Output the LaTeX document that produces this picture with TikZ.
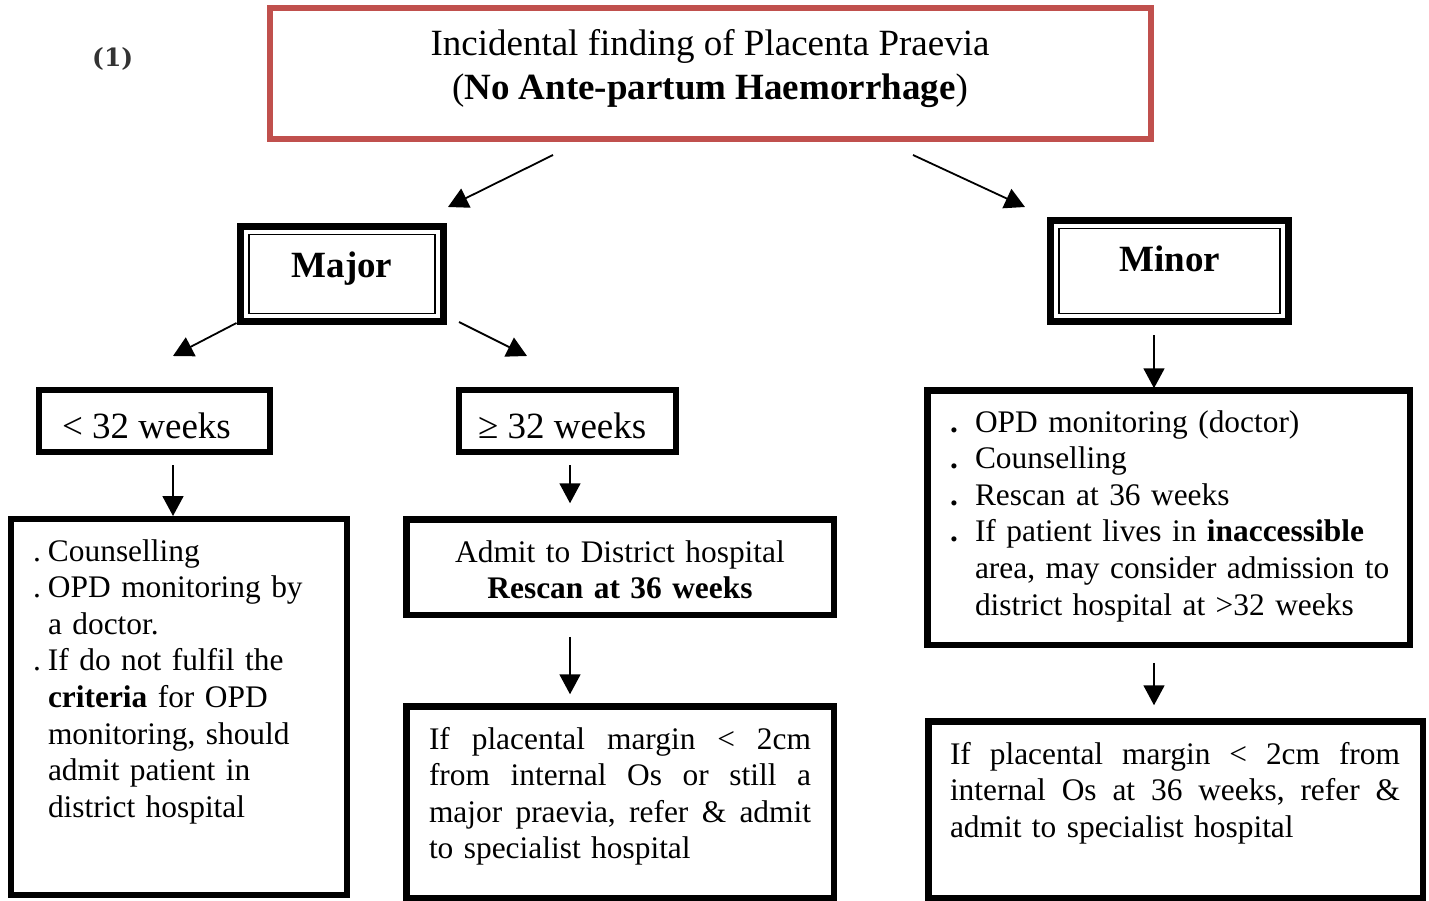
\documentclass[tikz,border=0pt]{standalone}
\usepackage{fontspec}
\setmainfont{Liberation Serif}
\newfontfamily\numfont{DejaVu Serif}
\usetikzlibrary{arrows.meta,calc}
\definecolor{redline}{HTML}{C0504D}
\definecolor{numgray}{HTML}{333333}
\newcommand{\bl}{\makebox[15pt][l]{.}}
\newcommand{\ind}{\hspace*{15pt}}
\newcommand{\bb}{\makebox[25pt][l]{\textbf{.}}}
\newcommand{\ib}{\hspace*{25pt}}
\newcommand{\jline}[2]{\leavevmode\hbox to #1{#2}}
\begin{document}
\begin{tikzpicture}[x=1pt,y=-1pt,
  thickbox/.style={draw=black, line width=6.5pt, inner sep=0pt, outer sep=0pt},
  redbox/.style={draw=redline, line width=6.5pt, inner sep=0pt, outer sep=0pt},
  innerline/.style={draw=black, line width=1.8pt},
  arr/.style={line width=1.8pt, -{Triangle[length=20pt,width=21pt]}},
  body/.style={font=\fontsize{31.4}{36.6}\selectfont, inner sep=0pt, outer sep=0pt, align=left},
  head/.style={font=\fontsize{37}{44}\selectfont, inner sep=0pt, outer sep=0pt}
]
\useasboundingbox (0,0) rectangle (1429,901);

% label
\node[font=\numfont\bfseries\fontsize{25}{28}\selectfont, text=numgray, anchor=base west, inner sep=0pt] (num) at (92,67) {(1)};

% title
\node[redbox, minimum width=881pt, minimum height=131pt] (title) at (710.5,73.5) {};
\node[head, anchor=base] (titleA) at (710,56) {Incidental finding of Placenta Praevia};
\node[head, anchor=base] (titleB) at (710,100) {(\textbf{No Ante-partum Haemorrhage})};

% major / minor
\node[thickbox, minimum width=203pt, minimum height=95pt] (major) at (342,274) {};
\draw[innerline] ($(major.north west)+(8.5,8)$) rectangle ($(major.south east)+(-8.5,-8)$);
\node[head, font=\fontsize{37}{44}\selectfont\bfseries, anchor=base] (majorT) at (342,277) {Major};

\node[thickbox, minimum width=238pt, minimum height=101pt] (minor) at (1169.5,271) {};
\draw[innerline] ($(minor.north west)+(8.5,8)$) rectangle ($(minor.south east)+(-8.5,-8)$);
\node[head, font=\fontsize{37}{44}\selectfont\bfseries, anchor=base] (minorT) at (1170,272) {Minor};

% weeks
\node[thickbox, minimum width=231pt, minimum height=62pt] (lt) at (154.5,421) {};
\node[head, anchor=base west] (ltT) at (62,438) {< 32 weeks};
\node[thickbox, minimum width=217pt, minimum height=62pt] (ge) at (567.5,421) {};
\node[head, anchor=base west] (geT) at (478,438) {≥ 32 weeks};

% left box
\node[thickbox, minimum width=336pt, minimum height=376pt] (leftbox) at (179,707) {};
\node[body, text width=310pt, anchor=base west] (leftT) at (33,561) {%
\bl Counselling\\
\bl OPD monitoring by\\
\ind a doctor.\\
\bl If do not fulfil the\\
\ind \textbf{criteria} for OPD\\
\ind monitoring, should\\
\ind admit patient in\\
\ind district hospital};

% admit box
\node[thickbox, minimum width=427.5pt, minimum height=95.5pt] (admit) at (620,567) {};
\node[body, text width=420pt, align=center, anchor=base] (admitT) at (620,562) {%
Admit to District hospital\\
\textbf{Rescan at 36 weeks}};

% middle bottom box
\node[thickbox, minimum width=427.5pt, minimum height=191.5pt] (midbox) at (620,802) {};
\node[body, text width=390pt, anchor=base west] (midT) at (429,749) {%
\jline{382pt}{If \hfill placental \hfill margin \hfill < \hfill 2cm}\\
\jline{382pt}{from \hfill internal \hfill Os \hfill or \hfill still \hfill a}\\
\jline{382pt}{major \hfill praevia, \hfill refer \hfill \& \hfill admit}\\
to specialist hospital};

% minor list box
\node[thickbox, minimum width=482.5pt, minimum height=254.5pt] (minorlist) at (1168.5,517.5) {};
\node[body, text width=470pt, anchor=base west] (minorlistT) at (950,432) {%
\bb OPD monitoring (doctor)\\
\bb Counselling\\
\bb Rescan at 36 weeks\\
\bb If patient lives in \textbf{inaccessible}\\
\ib area, may consider admission to\\
\ib district hospital at >32 weeks};

% right bottom box
\node[thickbox, minimum width=494.5pt, minimum height=176.5pt] (rightbox) at (1175.5,809.5) {};
\node[body, text width=460pt, anchor=base west] (rightT) at (950,764) {%
\jline{450pt}{If \hfill placental \hfill margin \hfill < \hfill 2cm \hfill from}\\
\jline{450pt}{internal \hfill Os \hfill at \hfill 36 \hfill weeks, \hfill refer \hfill \&}\\
admit to specialist hospital};

% arrows
\draw[arr] ($(title.south)+(-157.5,16)$) -- ($(major.north)+(106,-19.5)$);
\draw[arr] ($(title.south)+(202.5,16)$) -- ($(minor.north)+(-144.5,-13.5)$);
\draw[arr] ($(major.south west)+(-4,1.5)$) -- ($(lt.north)+(18.5,-34)$);
\draw[arr] ($(major.south east)+(15.5,0.5)$) -- ($(ge.north)+(-40.5,-34)$);
\draw[arr] ($(lt.south)+(18.5,13)$) -- ($(leftbox.north)+(-6,-3)$);
\draw[arr] ($(ge.south)+(2.5,13)$) -- ($(admit.north)+(-50,-16)$);
\draw[arr] ($(admit.south)+(-50,22)$) -- ($(midbox.north)+(-50,-12)$);
\draw[arr] ($(minor.south)+(-15.5,13.5)$) -- ($(minorlist.north)+(-14.5,-2)$);
\draw[arr] ($(minorlist.south)+(-14.5,18)$) -- ($(rightbox.north)+(-21.5,-16)$);
\end{tikzpicture}
\end{document}
